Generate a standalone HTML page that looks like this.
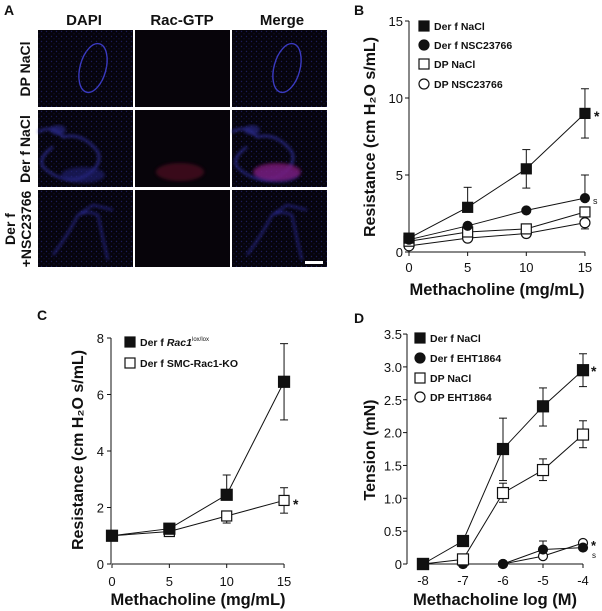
<!DOCTYPE html><html><head><meta charset="utf-8"><style>
body{margin:0;background:#fff;width:602px;height:611px;overflow:hidden}
svg{position:absolute;left:0;top:0}
text{font-family:"Liberation Sans",Arial,sans-serif}
</style></head><body>
<svg id="s" width="602" height="611" viewBox="0 0 602 611">
<defs><filter id="bl"><feGaussianBlur stdDeviation="1.5"/></filter>
<pattern id="dots" width="5" height="5" patternUnits="userSpaceOnUse"><rect width="5" height="5" fill="#06040c"/><circle cx="1.5" cy="1.5" r="0.7" fill="#1c1c58"/><circle cx="4" cy="3.8" r="0.6" fill="#141444"/></pattern></defs>
<rect width="602" height="611" fill="#fff"/>
<g id="A"></g><g id="g"></g>
</svg>
<script>
const NS="http://www.w3.org/2000/svg",G=document.getElementById('g'),A=document.getElementById('A');
function el(t,a,p,txt){const e=document.createElementNS(NS,t);for(const k in a)e.setAttribute(k,a[k]);if(txt!=null)e.textContent=txt;(p||G).appendChild(e);return e;}
function tx(x,y,s,o){o=o||{};return el('text',Object.assign({x:x,y:y,'font-size':o.fs||13,'font-weight':o.b?'bold':'normal','text-anchor':o.a||'start',fill:'#111'},o.tr?{transform:o.tr}:{}),null,s);}
function ln(x1,y1,x2,y2,w){el('line',{x1,y1,x2,y2,stroke:'#111','stroke-width':w||1});}
// Panel A
tx(4,15,'A',{b:1,fs:14});
tx(84,25,'DAPI',{b:1,a:'middle',fs:15});tx(182,25,'Rac-GTP',{b:1,a:'middle',fs:15});tx(282,25,'Merge',{b:1,a:'middle',fs:15});
const cols=[38,135,232],rows=[30,110,190];
rows.forEach((ry,ri)=>cols.forEach((cx,ci)=>{
 let blue=ci!=1, red=ci>=1&&ri==1;
 el('rect',{x:cx,y:ry,width:95,height:77,fill:blue?'url(#dots)':'#07040a'},A);
 if(ri==0&&blue){el('ellipse',{cx:cx+55,cy:ry+38,rx:13,ry:25,fill:'none',stroke:'#3a3ac0','stroke-width':1.4,transform:`rotate(15 ${cx+55} ${ry+38})`},A);}
 if(ri==1){
  if(blue){el('path',{d:`M${cx} ${ry+22} q15 -8 25 5 q20 -5 35 15 q5 15 -15 25 q-20 8 -40 -10 q-5 -10 10 -20`,fill:'none',stroke:'#3434b0','stroke-width':1.8,filter:'url(#bl)'},A);
   el('ellipse',{cx:cx+20,cy:ry+20,rx:8,ry:5,fill:'#262680',opacity:.7,filter:'url(#bl)'},A);
   el('ellipse',{cx:cx+45,cy:ry+65,rx:22,ry:8,fill:'#20207a',opacity:.6,filter:'url(#bl)'},A);}
  if(red){el('ellipse',{cx:cx+45,cy:ry+62,rx:24,ry:9,fill:ci==2?'#8a1a80':'#501020',opacity:.7,filter:'url(#bl)'},A);}
 }
 if(ri==2&&blue){el('path',{d:`M${cx+15} ${ry+65} q15 -20 25 -40 q10 -5 20 0 q5 25 10 45 M${cx+40} ${ry+25} l15 -10 l20 5`,fill:'none',stroke:'#2e2ea8','stroke-width':1.5,filter:'url(#bl)'},A);}
}));
el('rect',{x:305,y:261,width:18,height:3,fill:'#fff'},A);
tx(0,0,'DP NaCl',{b:1,fs:14,a:'middle',tr:'translate(30,69) rotate(-90)'});
tx(0,0,'Der f NaCl',{b:1,fs:14,a:'middle',tr:'translate(30,149) rotate(-90)'});
tx(0,0,'Der f',{b:1,fs:14,a:'middle',tr:'translate(15,229) rotate(-90)'});
tx(0,0,'+NSC23766',{b:1,fs:14,a:'middle',tr:'translate(31,229) rotate(-90)'});
function mk(x,y,t,s){if(t=='fs'||t=='os')el('rect',{x:x-s/2,y:y-s/2,width:s,height:s,fill:t=='fs'?'#111':'#fff',stroke:'#111','stroke-width':1.2});
 else el('circle',{cx:x,cy:y,r:s/2,fill:t=='fc'?'#111':'#fff',stroke:'#111','stroke-width':1.2});}
function series(X,Y,xs,vs,t,s,errs){const pts=xs.map((x,i)=>[X(x),Y(vs[i])]);
 el('polyline',{points:pts.map(p=>p.join(',')).join(' '),fill:'none',stroke:'#111','stroke-width':1});
 (errs||[]).forEach(e=>{if(!e)return;const i=e[0],px=X(xs[i]);[e[1],e[2]].forEach(v=>{if(v==null)return;ln(px,Y(vs[i]),px,Y(v));ln(px-4,Y(v),px+4,Y(v));});});
 pts.forEach(p=>mk(p[0],p[1],t,s));}
// Panel B
{const X=v=>409+v*11.73,Y=v=>252-v*15.4;
tx(354,15,'B',{b:1,fs:14});
ln(409,21,409,252);ln(409,252,585,252);
[0,5,10,15].forEach(v=>{ln(405,Y(v),409,Y(v));tx(403,Y(v)+5,v,{a:'end',fs:13});ln(X(v),252,X(v),256);tx(X(v),272,v,{a:'middle',fs:13});});
tx(497,295,'Methacholine (mg/mL)',{b:1,a:'middle',fs:16.5});
tx(0,0,'Resistance (cm H\u2082O s/mL)',{b:1,a:'middle',fs:16,tr:'translate(375,137) rotate(-90)'});
const xs=[0,5,10,15];
series(X,Y,xs,[0.4,0.9,1.2,1.9],'oc',10,[[3,null,1.5]]);
series(X,Y,xs,[0.7,1.3,1.5,2.6],'os',10,[]);
series(X,Y,xs,[0.8,1.7,2.7,3.5],'fc',9,[[3,5.0,null]]);
series(X,Y,xs,[0.9,2.9,5.4,9.0],'fs',10,[[1,4.2,null],[2,6.65,4.15],[3,10.6,7.4]]);
tx(594,121,'*',{b:1,fs:14});tx(593,204,'s',{fs:9});
[['fs','Der f NaCl',26],['fc','Der f NSC23766',45],['os','DP NaCl',64],['oc','DP NSC23766',84]].forEach(l=>{mk(424,l[2],l[0],10);tx(434,l[2]+4,l[1],{b:1,fs:10.5});});}
// Panel C
{const X=v=>112+v*11.47,Y=v=>564-v*28.25;
tx(37,320,'C',{b:1,fs:14});
ln(111,338,111,564);ln(112,564,284,564);
[0,2,4,6,8].forEach(v=>{ln(107,Y(v),111,Y(v));tx(104,Y(v)+5,v,{a:'end',fs:13});});
[0,5,10,15].forEach(v=>{ln(X(v),564,X(v),568);tx(X(v),586,v,{a:'middle',fs:13});});
tx(198,605,'Methacholine (mg/mL)',{b:1,a:'middle',fs:16.5});
tx(0,0,'Resistance (cm H\u2082O s/mL)',{b:1,a:'middle',fs:16,tr:'translate(83,450) rotate(-90)'});
const xs=[0,5,10,15];
series(X,Y,xs,[1.0,1.15,1.7,2.25],'os',10,[[2,null,1.45],[3,2.7,1.8]]);
series(X,Y,xs,[1.0,1.25,2.45,6.45],'fs',11,[[2,3.15,null],[3,7.8,5.1]]);
tx(293,509,'*',{b:1,fs:14});
mk(130,342,'fs',10);
const t=el('text',{x:140,y:346,'font-size':10.5,'font-weight':'bold',fill:'#111'},null,'Der f ');
el('tspan',{'font-style':'italic'},t,'Rac1');
tx(192,341,'lox/lox',{fs:6});
mk(130,363,'os',10);tx(140,367,'Der f SMC-Rac1-KO',{b:1,fs:10.5});}
// Panel D
{const X=v=>423+(v+8)*40,Y=v=>564-v*65.7;
tx(354,323,'D',{b:1,fs:14});
ln(407,334,407,564);ln(423,564,583,564);
[0,0.5,1,1.5,2,2.5,3,3.5].forEach(v=>{ln(403,Y(v),407,Y(v));tx(402,Y(v)+5,v==0?'0':v.toFixed(1),{a:'end',fs:13});});
[-8,-7,-6,-5,-4].forEach(v=>{ln(X(v),564,X(v),568);tx(X(v),585,v,{a:'middle',fs:13});});
tx(495,605,'Methacholine log (M)',{b:1,a:'middle',fs:16.5});
tx(0,0,'Tension (mN)',{b:1,a:'middle',fs:16,tr:'translate(375,450) rotate(-90)'});
const xs=[-8,-7,-6,-5,-4];
series(X,Y,xs,[0,0,0,0.12,0.32],'oc',9,[]);
series(X,Y,xs,[0,0,0,0.22,0.25],'fc',9,[[3,0.35,null]]);
series(X,Y,xs,[0,0.07,1.08,1.43,1.97],'os',11,[[2,1.23,0.94],[3,1.6,1.27],[4,2.18,1.77]]);
series(X,Y,xs,[0,0.35,1.75,2.4,2.95],'fs',11,[[2,2.22,1.27],[3,2.68,2.1],[4,3.2,2.7]]);
tx(591,376,'*',{b:1,fs:14});tx(591,550,'*',{b:1,fs:13});tx(592,558,'s',{fs:8});
[['fs','Der f NaCl',338],['fc','Der f EHT1864',358],['os','DP NaCl',378],['oc','DP EHT1864',397]].forEach(l=>{mk(420,l[2],l[0],10);tx(430,l[2]+4,l[1],{b:1,fs:10.5});});}
</script>
</body></html>
